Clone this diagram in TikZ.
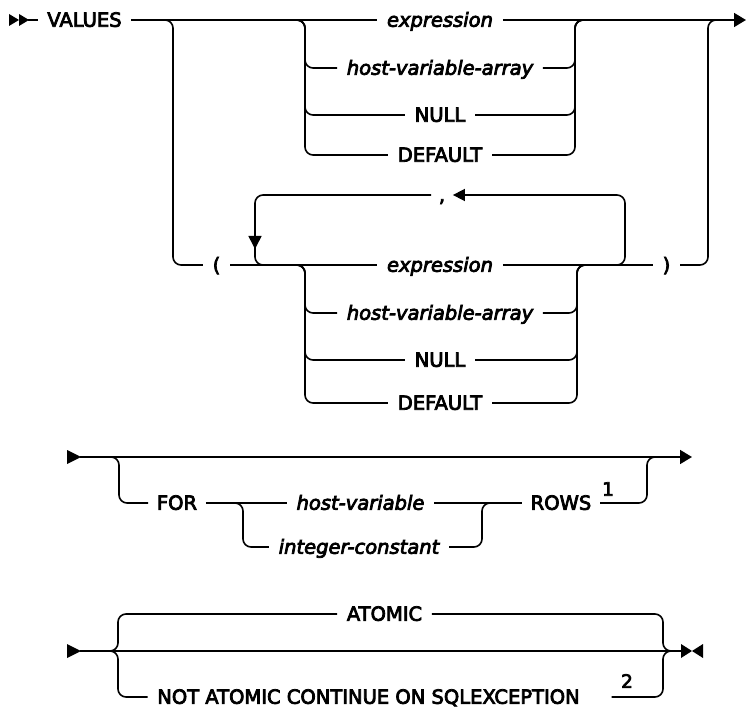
\documentclass[tikz,border=0pt]{standalone}
\usepackage{fontspec}
\setmainfont{DejaVu Sans}[FakeBold=4]
\usetikzlibrary{arrows.meta}
\begin{document}
\begin{tikzpicture}[x=1pt,y=-1pt,line width=1.6pt,
  font=\fontsize{19.5}{21}\selectfont,
  lbl/.style={inner xsep=9pt,inner ysep=0pt,text height=13.5pt,text depth=0pt},
  var/.style={lbl,font=\fontsize{19.5}{21}\selectfont\itshape},
  note/.style={inner sep=0pt,font=\fontsize{18.5}{19}\selectfont},
  brk/.style={rounded corners=8pt},
  tip/.style={-{Triangle[length=12pt,width=14pt]}}]
\useasboundingbox (0,0) rectangle (747,708);

% ---------------- section 1 ----------------
\fill (9,14) -- (19,20) -- (9,26) -- cycle;
\fill (19,14) -- (29,20) -- (19,26) -- cycle;
\coordinate (s1) at (28,20);
\coordinate (e1) at (746,20);
\node[lbl] (values) at (84.5,20) {VALUES};
\draw (s1) -- (values.west);

\node[var] (expr1) at (440,20) {expression};
\node[var] (hva1) at (440,68) {host-variable-array};
\node[lbl] (null1) at (440,115) {NULL};
\node[lbl] (def1) at (440,155) {DEFAULT};

\draw (values.east) -- (expr1.west);
\draw[tip] (expr1.east) -- (e1);
\foreach \r in {hva1,null1,def1}{
  \draw[brk] (297,20) -- (305,20) -- (305,0 |- \r) -- (\r.west);
  \draw[brk] (\r.east) -- (575,0 |- \r) -- (575,20) -- (583,20);
}

% lower alternative with repetition
\node[lbl] (lparen) at (216.5,265) {(};
\node[lbl] (rparen) at (666.5,265) {)};
\node[var] (expr2) at (440,265) {expression};
\node[var] (hva2) at (440,313) {host-variable-array};
\node[lbl] (null2) at (440,360) {NULL};
\node[lbl] (def2) at (440,403) {DEFAULT};
\node[lbl,inner xsep=7pt] (comma) at (442,195) {,};

\draw[brk] (165,20) -- (173,20) -- (173,265) -- (lparen.west);
\draw (lparen.east) -- (expr2.west);
\draw (expr2.east) -- (rparen.west);
\draw[brk] (rparen.east) -- (708,265) -- (708,20) -- (716,20);
\foreach \r in {hva2,null2,def2}{
  \draw[brk] (297,265) -- (305,265) -- (305,0 |- \r) -- (\r.west);
  \draw[brk] (\r.east) -- (577,0 |- \r) -- (577,265) -- (585,265);
}
% repeat loop
\draw[brk,-{Triangle[length=12pt,width=12pt]}] (617,265) -- (625,265) -- (625,195) -- (comma.east);
\draw[brk] (comma.west) -- (255,195) -- (255,265) -- (263,265);
\coordinate (la) at (255,232);
\coordinate (lb) at (255,249);
\draw[-{Triangle[length=13pt,width=13pt]}] (la) -- (lb);

% ---------------- section 2 ----------------
\fill (67,450) -- (81,457) -- (67,464) -- cycle;
\coordinate (s2) at (80,457);
\coordinate (e2) at (692,457);
\draw[tip] (s2) -- (e2);
\node[lbl,inner xsep=8pt] (for) at (177,503) {FOR};
\node[var] (hv) at (360.5,503) {host-variable};
\node[var] (ic) at (359,547) {integer-constant};
\node[lbl,inner xsep=8pt] (rows) at (561,503) {ROWS};
\node[note] (n1) at (608,489) {1};
\draw[brk] (111,457) -- (119,457) -- (119,503) -- (for.west);
\draw (for.east) -- (hv.west);
\draw[brk] (235,503) -- (243,503) -- (243,547) -- (ic.west);
\draw[brk] (ic.east) -- (482,547) -- (482,503) -- (490,503);
\draw (hv.east) -- (rows.west);
\draw[brk] (rows.east) -- (647,503) -- (647,457) -- (655,457);

% ---------------- section 3 ----------------
\fill (67,644) -- (81,651) -- (67,658) -- cycle;
\coordinate (s3) at (80,651);
\coordinate (e3) at (682,651);
\draw (s3) -- (e3);
\fill (681,644) -- (692,651) -- (681,658) -- cycle;
\fill (703,644) -- (692,651) -- (703,658) -- cycle;
\node[lbl] (atomic) at (384.5,614) {ATOMIC};
\node[lbl] (natomic) at (368.5,697) {NOT ATOMIC CONTINUE ON SQLEXCEPTION};
\node[note] (n2) at (627,681) {2};
\draw[brk] (110,651) -- (118,651) -- (118,614) -- (atomic.west);
\draw[brk] (110,651) -- (118,651) -- (118,697) -- (natomic.west);
\draw[brk] (atomic.east) -- (663,614) -- (663,651) -- (671,651);
\draw[brk] ([xshift=22pt]natomic.east) -- (663,697) -- (663,651) -- (671,651);
\end{tikzpicture}
\end{document}
